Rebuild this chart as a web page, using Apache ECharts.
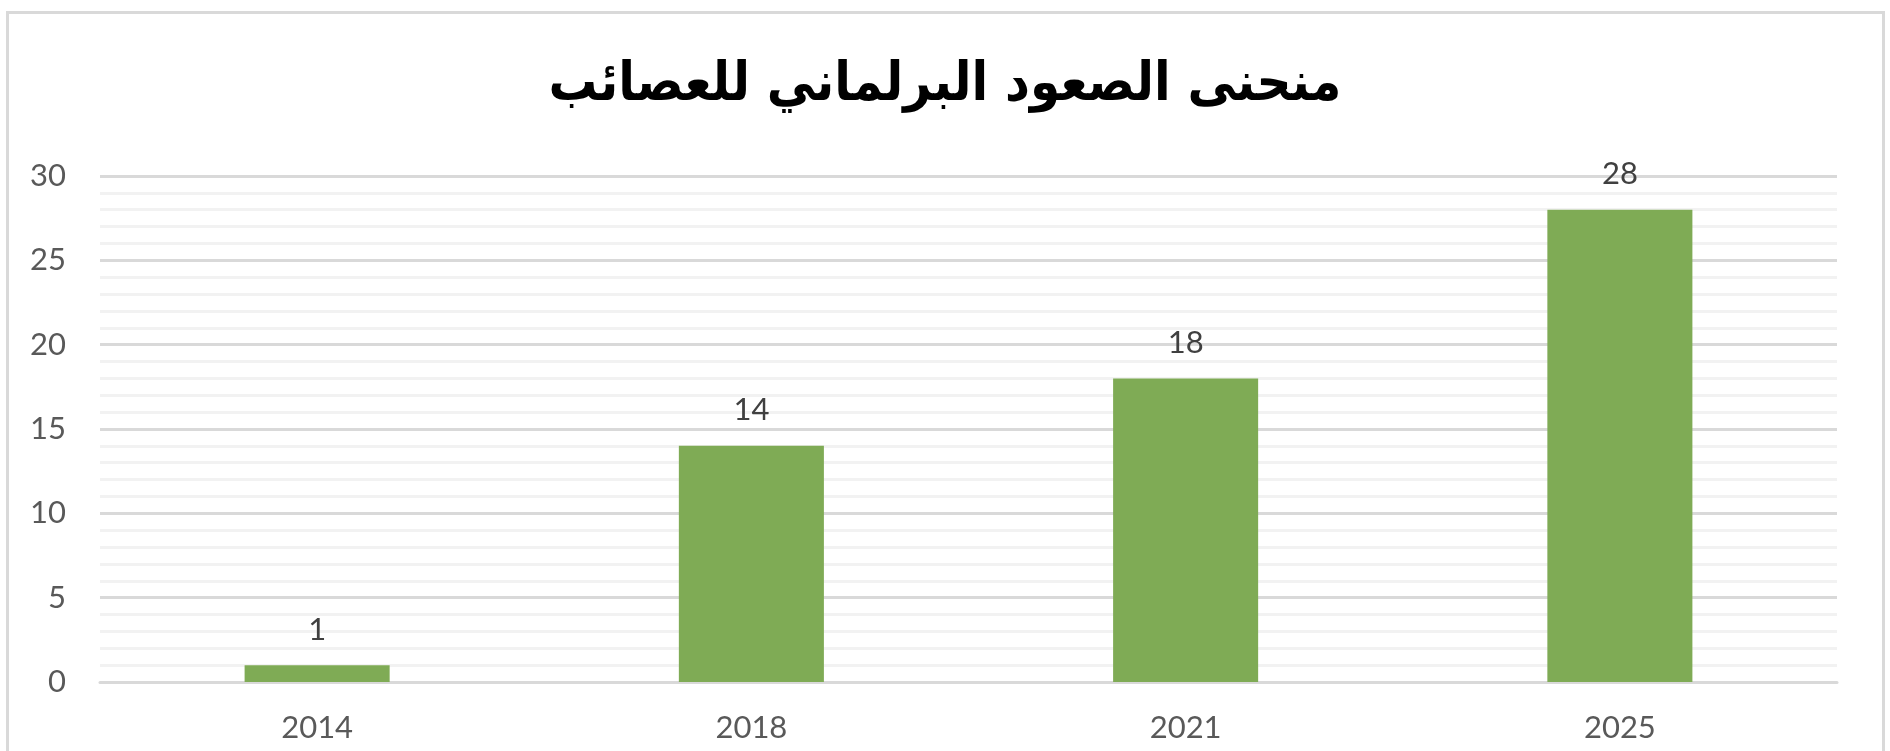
<!DOCTYPE html>
<html><head><meta charset="utf-8">
<script src="https://cdn.jsdelivr.net/npm/echarts@6/dist/echarts.min.js"></script>
<style>html,body{margin:0;padding:0;background:#fff}#c{width:1890px;height:751px}</style>
</head><body><div id="c"></div>
<script>
const titleText = 'منحنى الصعود البرلماني للعصائب';
const categories = ['2014', '2018', '2021', '2025'];
const seats = [1, 14, 18, 28];
const yTicks = [0, 5, 10, 15, 20, 25, 30];

const chart = echarts.init(document.getElementById('c'));
chart.setOption({
  backgroundColor: '#ffffff',
  animation: false,
  title: {
    text: titleText,
    left: 'center',
    top: 54,
    textStyle: { fontFamily: "'DejaVu Sans Condensed', 'DejaVu Sans'", fontWeight: 'bold', fontSize: 54, color: '#000000' }
  },
  graphic: [{
    type: 'rect', left: 5, top: 10, silent: true,
    shape: { x: 0, y: 0, width: 1876, height: 800 },
    style: { fill: 'none', stroke: '#d9d9d9', lineWidth: 3 }
  }],
  grid: { left: 100, right: 53, top: 176, bottom: 69 },
  xAxis: {
    type: 'category',
    data: categories,
    axisLine: { lineStyle: { color: '#d9d9d9', width: 3 } },
    axisTick: { show: false },
    axisLabel: { fontFamily: 'Lato', fontSize: 31, color: '#595959', margin: 30 }
  },
  yAxis: {
    type: 'value',
    min: yTicks[0], max: yTicks[yTicks.length - 1], interval: yTicks[1] - yTicks[0],
    axisLine: { show: false },
    axisTick: { show: false },
    axisLabel: { fontFamily: 'Lato', fontSize: 31, color: '#595959', margin: 34 },
    splitLine: { lineStyle: { color: '#d9d9d9', width: 3 } },
    minorTick: { show: false, splitNumber: 5 },
    minorSplitLine: { show: true, lineStyle: { color: '#f2f2f2', width: 3 } }
  },
  series: [{
    type: 'bar',
    data: seats,
    barWidth: '33.4%',
    itemStyle: { color: '#7fab55' },
    label: { show: true, position: 'top', distance: 20, fontFamily: 'Lato', fontSize: 31, color: '#404040' }
  }]
});
</script></body></html>
